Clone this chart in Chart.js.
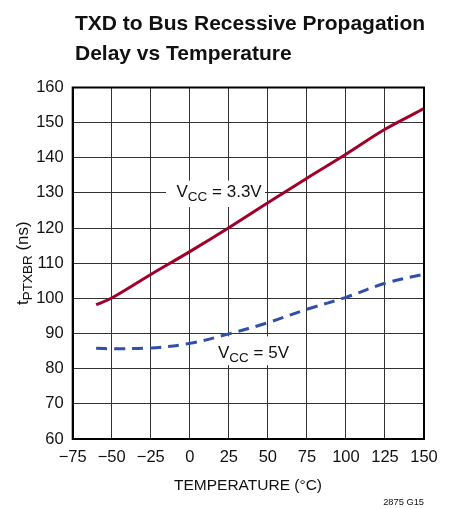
<!DOCTYPE html>
<html>
<head>
<meta charset="utf-8">
<script src="https://cdn.jsdelivr.net/npm/chart.js@4.4.0/dist/chart.umd.min.js"></script>
<style>
html,body{margin:0;padding:0;background:#fff;}
#wrap{width:458px;height:508px;position:relative;}
</style>
</head>
<body>
<div id="wrap"><canvas id="c" width="458" height="508"></canvas></div>
<script>
// ---- data ----
const temperatures = [-60, -50, -25, 0, 25, 50, 75, 100, 125, 150];
const delayVcc33 = [98.2, 100.1, 106.8, 113.3, 120.1, 127.2, 134.2, 141.0, 148.1, 154.0];
const delayVcc5 = [85.8, 85.7, 85.9, 87.2, 89.9, 93.1, 96.9, 100.3, 104.3, 106.9];
const xTicks = [-75, -50, -25, 0, 25, 50, 75, 100, 125, 150];
const yTicks = [60, 70, 80, 90, 100, 110, 120, 130, 140, 150, 160];
const titleLines = ['TXD to Bus Recessive Propagation', 'Delay vs Temperature'];
const xTitle = 'TEMPERATURE (°C)';
const footnote = '2875 G15';

const FONT = '"Liberation Sans", Arial, sans-serif';

function pts(xs, ys) { return xs.map((x, i) => ({ x: x, y: ys[i] })); }

function drawSubLabel(ctx, x, y, main, sub, rest, size, subSize) {
  ctx.font = size + 'px ' + FONT;
  ctx.fillText(main, x, y);
  let w = ctx.measureText(main).width;
  ctx.font = subSize + 'px ' + FONT;
  ctx.fillText(sub, x + w, y + 3.5);
  w += ctx.measureText(sub).width;
  ctx.font = size + 'px ' + FONT;
  ctx.fillText(rest, x + w, y);
}

const decor = {
  id: 'decor',
  beforeDatasetsDraw(chart) {
    const ctx = chart.ctx;
    const ys = chart.scales.y;
    ctx.save();
    ctx.fillStyle = '#fff';
    ctx.fillRect(166, ys.getPixelForValue(133.5), 99, ys.getPixelForValue(126) - ys.getPixelForValue(133.5));
    ctx.fillRect(214, ys.getPixelForValue(89.2), 76, ys.getPixelForValue(81) - ys.getPixelForValue(89.2));
    ctx.restore();
  },
  afterDraw(chart) {
    const ctx = chart.ctx;
    const a = chart.chartArea;
    ctx.save();
    ctx.strokeStyle = '#000';
    ctx.lineWidth = 2;
    ctx.strokeRect(a.left, a.top, a.right - a.left, a.bottom - a.top);
    ctx.fillStyle = '#111';
    ctx.textBaseline = 'alphabetic';
    ctx.font = 'bold 21px ' + FONT;
    ctx.textAlign = 'left';
    ctx.fillText(titleLines[0], 75, 29.5);
    ctx.fillText(titleLines[1], 75, 59.5);
    drawSubLabel(ctx, 176.5, 197.3, 'V', 'CC', ' = 3.3V', 17, 13.5);
    drawSubLabel(ctx, 218, 358, 'V', 'CC', ' = 5V', 17, 13.5);
    ctx.font = '15.5px ' + FONT;
    ctx.textAlign = 'center';
    ctx.fillText(xTitle, 248, 490);
    ctx.font = '9.3px ' + FONT;
    ctx.textAlign = 'right';
    ctx.fillText(footnote, 424, 505);
    ctx.translate(28, 305);
    ctx.rotate(-Math.PI / 2);
    ctx.textAlign = 'left';
    drawSubLabel(ctx, 0, 0, 't', 'PTXBR', ' (ns)', 17, 13.5);
    ctx.restore();
  }
};

new Chart(document.getElementById('c'), {
  type: 'line',
  data: {
    datasets: [
      {
        label: 'VCC = 3.3V',
        data: pts(temperatures, delayVcc33),
        borderColor: '#a0002a',
        borderWidth: 3,
        pointRadius: 0,
        tension: 0.35,
        fill: false
      },
      {
        label: 'VCC = 5V',
        data: pts(temperatures, delayVcc5),
        borderColor: '#2f4fa8',
        borderWidth: 3,
        borderDash: [11, 7],
        pointRadius: 0,
        tension: 0.35,
        fill: false
      }
    ]
  },
  options: {
    responsive: false,
    animation: false,
    devicePixelRatio: 1,
    layout: { padding: { left: 0, right: 34, top: 87.5, bottom: 0 } },
    plugins: { legend: { display: false }, tooltip: { enabled: false }, title: { display: false } },
    scales: {
      x: {
        type: 'linear',
        min: -75, max: 150,
        afterBuildTicks(s) { s.ticks = xTicks.map(v => ({ value: v })); },
        afterFit(s) { s.height = 69; },
        grid: { color: '#333', lineWidth: 1, drawTicks: false },
        border: { color: '#000', width: 2 },
        ticks: {
          padding: 9,
          color: '#111',
          font: { family: FONT, size: 16.5 },
          maxRotation: 0,
          autoSkip: false,
          callback: v => String(v).replace('-', '\u2212')
        }
      },
      y: {
        type: 'linear',
        min: 60, max: 160,
        afterBuildTicks(s) { s.ticks = yTicks.map(v => ({ value: v })); },
        afterFit(s) { s.width = 72.7; },
        grid: { color: '#333', lineWidth: 1, drawTicks: false },
        border: { color: '#000', width: 2 },
        ticks: {
          padding: 9,
          color: '#111',
          font: { family: FONT, size: 16.5 },
          autoSkip: false
        }
      }
    }
  },
  plugins: [decor]
});
</script>
</body>
</html>
